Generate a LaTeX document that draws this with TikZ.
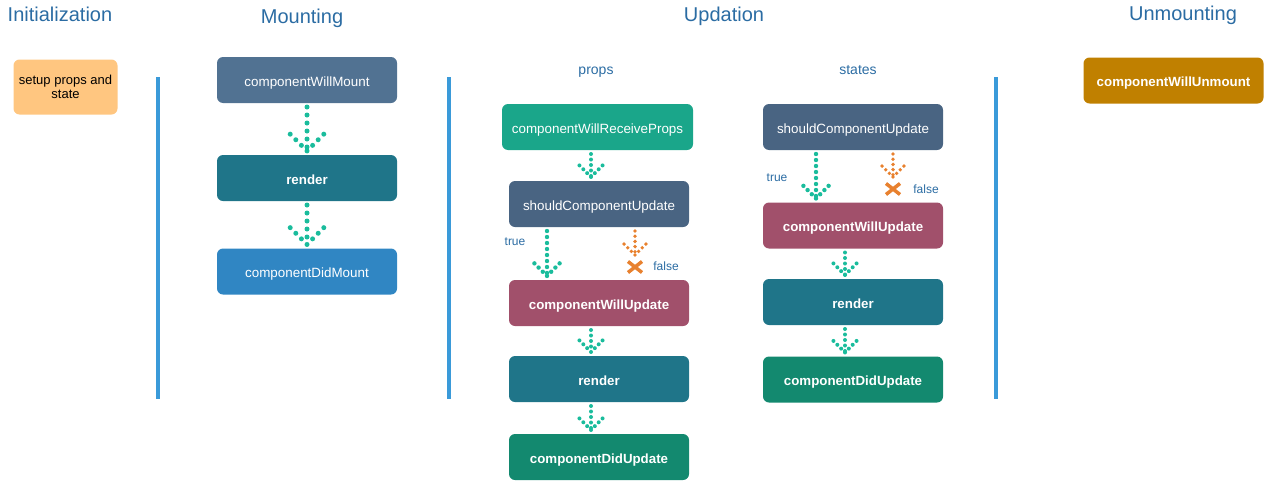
\documentclass[tikz,border=0pt]{standalone}
\usepackage{fontspec}
\setmainfont{Liberation Sans}
\usetikzlibrary{decorations.markings}

\definecolor{titleblue}{RGB}{43,108,163}
\definecolor{lineblue}{RGB}{58,154,217}
\definecolor{dotgreen}{RGB}{26,188,156}
\definecolor{dotorange}{RGB}{232,129,47}
\definecolor{cSetup}{RGB}{255,198,128}
\definecolor{cMount}{RGB}{81,114,146}
\definecolor{cRender}{RGB}{31,117,137}
\definecolor{cDidMount}{RGB}{48,134,195}
\definecolor{cReceive}{RGB}{26,166,138}
\definecolor{cShould}{RGB}{73,100,130}
\definecolor{cWillUpd}{RGB}{161,80,107}
\definecolor{cDidUpd}{RGB}{19,137,111}
\definecolor{cUnmount}{RGB}{192,128,0}

\tikzset{
  phase/.style={text=titleblue, font=\fontsize{20}{24}\selectfont},
  sublabel/.style={text=titleblue, font=\fontsize{14}{16}\selectfont},
  cond/.style={text=titleblue, font=\fontsize{12}{14}\selectfont},
  box/.style={fill=#1, rounded corners=6pt, minimum width=180pt, minimum height=46pt,
    inner sep=0pt, outer sep=4pt, text height=12.6pt, text depth=0pt,
    text=white, font=\fontsize{13.4}{15}\selectfont},
  boldbox/.style={box=#1, font=\fontsize{13.3}{15}\selectfont\bfseries},
  setupbox/.style={fill=cSetup, rounded corners=6pt, minimum width=104pt, minimum height=55pt,
    inner sep=0pt, align=center, font=\fontsize{13}{14.5}\selectfont},
  divider/.style={lineblue, line width=4pt},
  dotarr/.style n args={3}{draw=none, postaction={decorate}, decoration={markings,
    mark=between positions 0 and 0.98 step #2 with {\fill[#1] (0,0) circle (#3);},
    mark=at position 0.999 with {\fill[#1] (0,0) circle (#3);
      \foreach \k in {1,2,3} {\fill[#1] (-0.7*\k*#2, 0.7*\k*#2) circle (#3);
        \fill[#1] (-0.7*\k*#2, -0.7*\k*#2) circle (#3);}}}},
  bigarr/.style={dotarr={dotgreen}{8pt}{2.5pt}},
  midarr/.style={dotarr={dotgreen}{6pt}{2.2pt}},
  smallarr/.style={dotarr={dotgreen}{5.5pt}{2pt}},
  nogo/.style={dotarr={dotorange}{5.2pt}{1.9pt}},
  cross/.style={dotorange, line width=3.5pt}
}

\begin{document}
\begin{tikzpicture}[x=1pt, y=-1pt]
  \useasboundingbox (0,0) rectangle (1264,482);

  \node[phase] (tinit) at (60,14) {Initialization};
  \node[phase] (tmount) at (302,18) {Mounting};
  \node[phase] (tupd) at (724,16) {Updation};
  \node[phase] (tunmount) at (1183,15) {Unmounting};

  \draw[divider] (158,77) -- (158,399);
  \draw[divider] (449,77) -- (449,399);
  \draw[divider] (996,77) -- (996,399);

  \node[setupbox] (setup) at (65.5,87) {setup props and\\state};

  \node[box=cMount] (cwm) at (307,80) {componentWillMount};
  \node[boldbox=cRender] (mrnd) at (307,178) {render};
  \node[box=cDidMount] (cdm) at (307,271.5) {componentDidMount};
  \draw[bigarr] (cwm) -- (mrnd);
  \draw[bigarr] (mrnd) -- (cdm);

  \node[sublabel] (lprops) at (596,72) {props};
  \node[box=cReceive, minimum width=191pt] (crp) at (597.5,127) {componentWillReceiveProps};
  \node[box=cShould] (pscu) at (599,204) {shouldComponentUpdate};
  \node[boldbox=cWillUpd] (pcwu) at (599,303) {componentWillUpdate};
  \node[boldbox=cRender] (prnd) at (599,379) {render};
  \node[boldbox=cDidUpd] (pcdu) at (599,457) {componentDidUpdate};
  \coordinate (pno) at (635,255);
  \coordinate (pxc) at (635,267);
  \draw[smallarr] ([xshift=-6.5pt]crp.south) -- ([xshift=-8pt]pscu.north);
  \draw[midarr] ([xshift=-52pt]pscu.south) -- ([xshift=-52pt]pcwu.north);
  \draw[nogo] ([xshift=36pt]pscu.south) -- (pno);
  \draw[cross] ([shift={(-7pt,5.5pt)}]pxc) -- ([shift={(7pt,-5.5pt)}]pxc)
    ([shift={(-7pt,-5.5pt)}]pxc) -- ([shift={(7pt,5.5pt)}]pxc);
  \draw[smallarr] ([xshift=-8pt]pcwu.south) -- ([xshift=-8pt]prnd.north);
  \draw[smallarr] ([xshift=-8pt]prnd.south) -- ([xshift=-8pt]pcdu.north);
  \node[cond] (ptrue) at (515,242) {true};
  \node[cond] (pfalse) at (666,266) {false};

  \node[sublabel] (lstates) at (858,70) {states};
  \node[box=cShould] (sscu) at (853,127) {shouldComponentUpdate};
  \node[boldbox=cWillUpd] (scwu) at (853,225.5) {componentWillUpdate};
  \node[boldbox=cRender] (srnd) at (853,302) {render};
  \node[boldbox=cDidUpd] (scdu) at (853,379.5) {componentDidUpdate};
  \coordinate (sno) at (893,177);
  \coordinate (sxc) at (893,189);
  \draw[midarr] ([xshift=-37pt]sscu.south) -- ([xshift=-37pt]scwu.north);
  \draw[nogo] ([xshift=40pt]sscu.south) -- (sno);
  \draw[cross] ([shift={(-7pt,5.5pt)}]sxc) -- ([shift={(7pt,-5.5pt)}]sxc)
    ([shift={(-7pt,-5.5pt)}]sxc) -- ([shift={(7pt,5.5pt)}]sxc);
  \draw[smallarr] ([xshift=-8pt]scwu.south) -- ([xshift=-8pt]srnd.north);
  \draw[smallarr] ([xshift=-8pt]srnd.south) -- ([xshift=-8pt]scdu.north);
  \node[cond] (strue) at (777,178) {true};
  \node[cond] (sfalse) at (926,189) {false};

  \node[boldbox=cUnmount] (cwum) at (1173.5,80.5) {componentWillUnmount};
\end{tikzpicture}
\end{document}
